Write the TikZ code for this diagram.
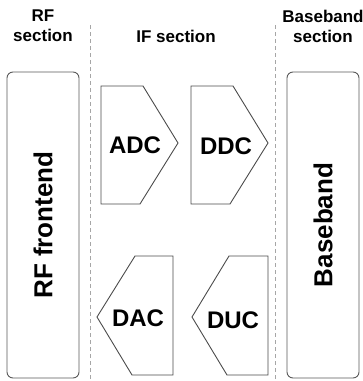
\documentclass[tikz,border=0pt]{standalone}
\usepackage{fontspec}
\setmainfont{Liberation Sans}
\begin{document}
\begin{tikzpicture}[x=1pt,y=-1pt,
  title/.style={font=\bfseries\fontsize{17}{20}\selectfont, align=center, inner sep=0pt},
  section box/.style={draw=black!65, line width=0.9pt, rounded corners=6pt, rotate=90,
    minimum width=306pt, minimum height=72pt, inner sep=0pt,
    font=\bfseries\fontsize{26}{28}\selectfont},
  block/.style={draw=black!70, line width=0.9pt, fill=white},
  blocklabel/.style={font=\bfseries\fontsize{24}{26}\selectfont, inner sep=0pt},
  divider/.style={draw=black!35, line width=0.9pt, dash pattern=on 4pt off 3pt}]
\useasboundingbox (0,0) rectangle (363,381);
% section dividers
\coordinate (d1top) at (90,25);
\coordinate (d1bot) at (90,381);
\coordinate (d2top) at (275,25);
\coordinate (d2bot) at (275,381);
\draw[divider] (d1top) -- (d1bot);
\draw[divider] (d2top) -- (d2bot);
% titles
\node[title] (trf) at (43,26) {RF\\section};
\node[title] (tif) at (176,36) {IF section};
\node[title] (tbb) at (323,26) {Baseband\\section};
% side boxes
\node[section box] (rf) at (43,225) {RF frontend};
\node[section box] (bb) at (323,225) {Baseband};
% IF blocks
\draw[block] (101,86) -- (143,86) -- (178,143) -- (140,204) -- (101,204) -- cycle;
\node[blocklabel] (adc) at (135,145) {ADC};
\draw[block] (191,86) -- (233,86) -- (268,143) -- (230,204) -- (191,204) -- cycle;
\node[blocklabel] (ddc) at (226,146) {DDC};
\draw[block] (173,256) -- (135,256) -- (97,317) -- (132,375) -- (173,375) -- cycle;
\node[blocklabel] (dac) at (138,318) {DAC};
\draw[block] (268,256) -- (229,256) -- (192,317) -- (227,375) -- (268,375) -- cycle;
\node[blocklabel] (duc) at (233,320) {DUC};
\end{tikzpicture}
\end{document}
